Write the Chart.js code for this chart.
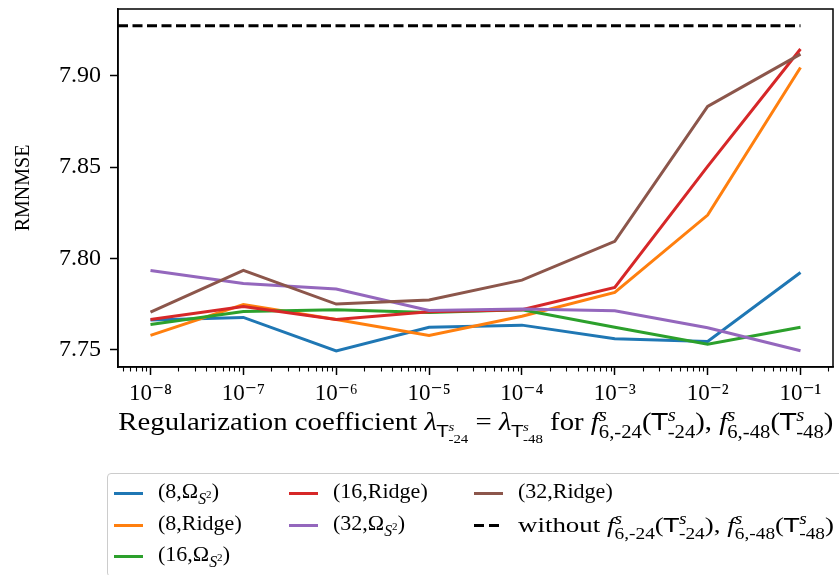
<!DOCTYPE html>
<html>
<head>
<meta charset="utf-8">
<script src="https://cdn.jsdelivr.net/npm/chart.js@4"></script>
<style>
  html, body { margin: 0; padding: 0; background: #fff; overflow: hidden; }
  #wrap { position: relative; width: 839px; height: 575px; font-family: "Liberation Serif", "DejaVu Serif", serif; color: #000; }
  #chart { position: absolute; left: 0; top: 0; }
  #xtitle { position: absolute; left: 118px; width: 715px; top: 407px; text-align: center; font-size: 25px; line-height: 26px; white-space: nowrap; }
  #xtitle > span { display: inline-block; transform-origin: center top; }
  #legend { position: absolute; left: 107px; top: 473px; width: 745px; height: 104px; border: 1px solid #cccccc; border-radius: 4px; box-sizing: border-box; }
  .item { position: absolute; font-size: 22px; line-height: 24px; white-space: nowrap; transform-origin: left center; }
  .handle { position: absolute; height: 3px; }
  .ss { display: inline-block; vertical-align: -0.45em; font-size: 0.72em; line-height: 0.95; text-align: left; }
  .ss > span { display: block; }
  .sf { font-family: "DejaVu Sans", sans-serif; font-size: 0.92em; }
  i { font-style: italic; }
  .lsub { display: inline-block; vertical-align: -0.4em; font-size: 0.72em; }
</style>
</head>
<body>
<div id="wrap">
  <canvas id="chart" width="839" height="575"></canvas>
  <div id="xtitle"><span id="xtitleText"></span></div>
  <div id="legend"></div>
</div>
<script>
// x positions (regularization coefficient) and tick labels
const xValues = [1e-8, 1e-7, 1e-6, 1e-5, 1e-4, 1e-3, 1e-2, 1e-1];
const xTickLabels = ["10⁻⁸", "10⁻⁷", "10⁻⁶", "10⁻⁵", "10⁻⁴", "10⁻³", "10⁻²", "10⁻¹"];
const yTicks = [7.75, 7.80, 7.85, 7.90];
const yTickLabels = ["7.75", "7.80", "7.85", "7.90"];

// RMNMSE per setting
const seriesNames = ["(8,ΩS²)", "(8,Ridge)", "(16,ΩS²)", "(16,Ridge)", "(32,ΩS²)", "(32,Ridge)"];
const seriesColors = ["#1f77b4", "#ff7f0e", "#2ca02c", "#d62728", "#9467bd", "#8c564b"];
const omega8 = [7.7664, 7.7678, 7.7495, 7.7624, 7.7636, 7.7562, 7.7547, 7.7924];
const ridge8 = [7.7580, 7.7749, 7.7667, 7.7580, 7.7685, 7.7815, 7.8238, 7.9045];
const omega16 = [7.7640, 7.7711, 7.7720, 7.7705, 7.7720, 7.7624, 7.7531, 7.7624];
const ridge16 = [7.7667, 7.7738, 7.7667, 7.7709, 7.7720, 7.7842, 7.8504, 7.9146];
const omega32 = [7.7935, 7.7864, 7.7833, 7.7716, 7.7724, 7.7714, 7.7622, 7.7496];
const ridge32 = [7.7707, 7.7935, 7.7751, 7.7773, 7.7882, 7.8094, 7.8832, 7.9118];
const seriesValues = [omega8, ridge8, omega16, ridge16, omega32, ridge32];

// reference without the extra features
const baselineValue = 7.9273;

const xMin = Math.pow(10, -8.35);
const xMax = Math.pow(10, -0.65);
const yMin = 7.7407;
const yMax = 7.9365;

const baselineX = [xMin, 1e-1];

// math snippets for the html texts
const T = (sub) => '<span class="sf">T</span><span class="ss"><span><i>s</i></span><span>' + sub + '</span></span>';
const F = (sub) => '<i>f</i><span class="ss"><span><i>s</i></span><span>' + sub + '</span></span>';
const OMEGA = 'Ω<span class="lsub"><i>S</i><sup style="font-size:0.7em">2</sup></span>';

const legendHtml = [
  "(8," + OMEGA + ")",
  "(8,Ridge)",
  "(16," + OMEGA + ")",
  "(16,Ridge)",
  "(32," + OMEGA + ")",
  "(32,Ridge)",
  "without " + F("6,-24") + "(" + T("-24") + "), " + F("6,-48") + "(" + T("-48") + ")"
];

const xTitle = document.getElementById("xtitleText");
xTitle.innerHTML =
  "Regularization coefficient <i>λ</i><span class=\"lsub\">" + T("-24") + "</span> = <i>λ</i><span class=\"lsub\">" + T("-48") + "</span> for " +
  F("6,-24") + "(" + T("-24") + "), " + F("6,-48") + "(" + T("-48") + ")";
// stretch to the width of the original (computer modern is wider)
xTitle.style.transform = "scaleX(" + (715 / xTitle.getBoundingClientRect().width) + ")";

// legend, column-major like matplotlib (3 columns)
const colX = [6, 181, 366];
const rowY = [19, 51, 82];
const colOf = [0, 0, 0, 1, 1, 2, 2];
const rowOf = [0, 1, 2, 0, 1, 0, 1];
const legend = document.getElementById("legend");
legendHtml.forEach((html, i) => {
  const h = document.createElement("div");
  h.className = "handle";
  h.style.left = colX[colOf[i]] + "px";
  h.style.top = (rowY[rowOf[i]] - 1.5) + "px";
  h.style.width = "29px";
  if (i < seriesColors.length) {
    h.style.background = seriesColors[i];
  } else {
    h.style.background = "repeating-linear-gradient(90deg, #000 0 10px, transparent 10px 15px)";
    h.style.width = "25px";
  }
  legend.appendChild(h);
  const t = document.createElement("div");
  t.className = "item";
  t.innerHTML = html;
  t.style.left = (colX[colOf[i]] + 44) + "px";
  t.style.top = (rowY[rowOf[i]] - 14) + "px";
  legend.appendChild(t);
  if (i === legendHtml.length - 1) {
    t.style.transform = "scaleX(" + (316 / t.getBoundingClientRect().width) + ")";
  }
});

const datasets = seriesValues.map((vals, i) => ({
  label: seriesNames[i],
  data: xValues.map((x, j) => ({ x: x, y: vals[j] })),
  borderColor: seriesColors[i],
  backgroundColor: seriesColors[i],
  borderWidth: 3,
  pointRadius: 0,
  tension: 0,
  order: seriesValues.length - i
}));
datasets.push({
  label: "without",
  data: baselineX.map(x => ({ x: x, y: baselineValue })),
  borderColor: "#000",
  borderWidth: 3,
  borderDash: [10, 4.5],
  pointRadius: 0,
  order: 0
});

// frame and minor log ticks
const framePlugin = {
  id: "frame",
  afterDatasetsDraw(chart) {
    const { ctx, chartArea: a } = chart;
    const xs = chart.scales.x;
    ctx.save();
    ctx.strokeStyle = "#000";
    ctx.lineWidth = 1.5;
    ctx.strokeRect(a.left, a.top, a.right - a.left, a.bottom - a.top);
    ctx.lineWidth = 1.1;
    for (let k = -9; k <= 0; k++) {
      for (let m = 2; m <= 9; m++) {
        const v = m * Math.pow(10, k);
        if (v < xMin || v > xMax) continue;
        const px = Math.round(xs.getPixelForValue(v)) + 0.5;
        ctx.beginPath();
        ctx.moveTo(px, a.bottom);
        ctx.lineTo(px, a.bottom + 4.5);
        ctx.stroke();
      }
    }
    ctx.restore();
  }
};

const serif = "'Liberation Serif', 'DejaVu Serif', serif";

new Chart(document.getElementById("chart").getContext("2d"), {
  type: "line",
  data: { datasets },
  options: {
    responsive: false,
    animation: false,
    layout: { padding: { top: 9, right: 6, left: 0, bottom: 0 } },
    plugins: { legend: { display: false }, tooltip: { enabled: false } },
    scales: {
      x: {
        type: "logarithmic",
        min: xMin,
        max: xMax,
        afterBuildTicks: s => { s.ticks = xValues.map(v => ({ value: v })); },
        afterFit: s => { s.height = 208; s.paddingLeft = 0; s.paddingRight = 0; },
        ticks: {
          callback: (v, i) => xTickLabels[i],
          font: { family: serif, size: 23 },
          color: "#000",
          padding: 5,
          maxRotation: 0,
          autoSkip: false
        },
        grid: { drawOnChartArea: false, tickLength: 8, tickWidth: 1.5, tickColor: "#000" },
        border: { color: "#000", width: 1.5 }
      },
      y: {
        min: yMin,
        max: yMax,
        afterBuildTicks: s => { s.ticks = yTicks.map(v => ({ value: v })); },
        afterFit: s => { s.width = 118; s.paddingTop = 0; s.paddingBottom = 0; },
        ticks: {
          callback: (v, i) => yTickLabels[i],
          font: { family: serif, size: 24 },
          color: "#000",
          padding: 9
        },
        grid: { drawOnChartArea: false, tickLength: 8, tickWidth: 1.5, tickColor: "#000" },
        border: { color: "#000", width: 1.5 },
        title: {
          display: true,
          text: "RMNMSE",
          font: { family: serif, size: 20 },
          color: "#000",
          padding: { top: 12, bottom: 0 }
        }
      }
    }
  },
  plugins: [framePlugin]
});
</script>
</body>
</html>
